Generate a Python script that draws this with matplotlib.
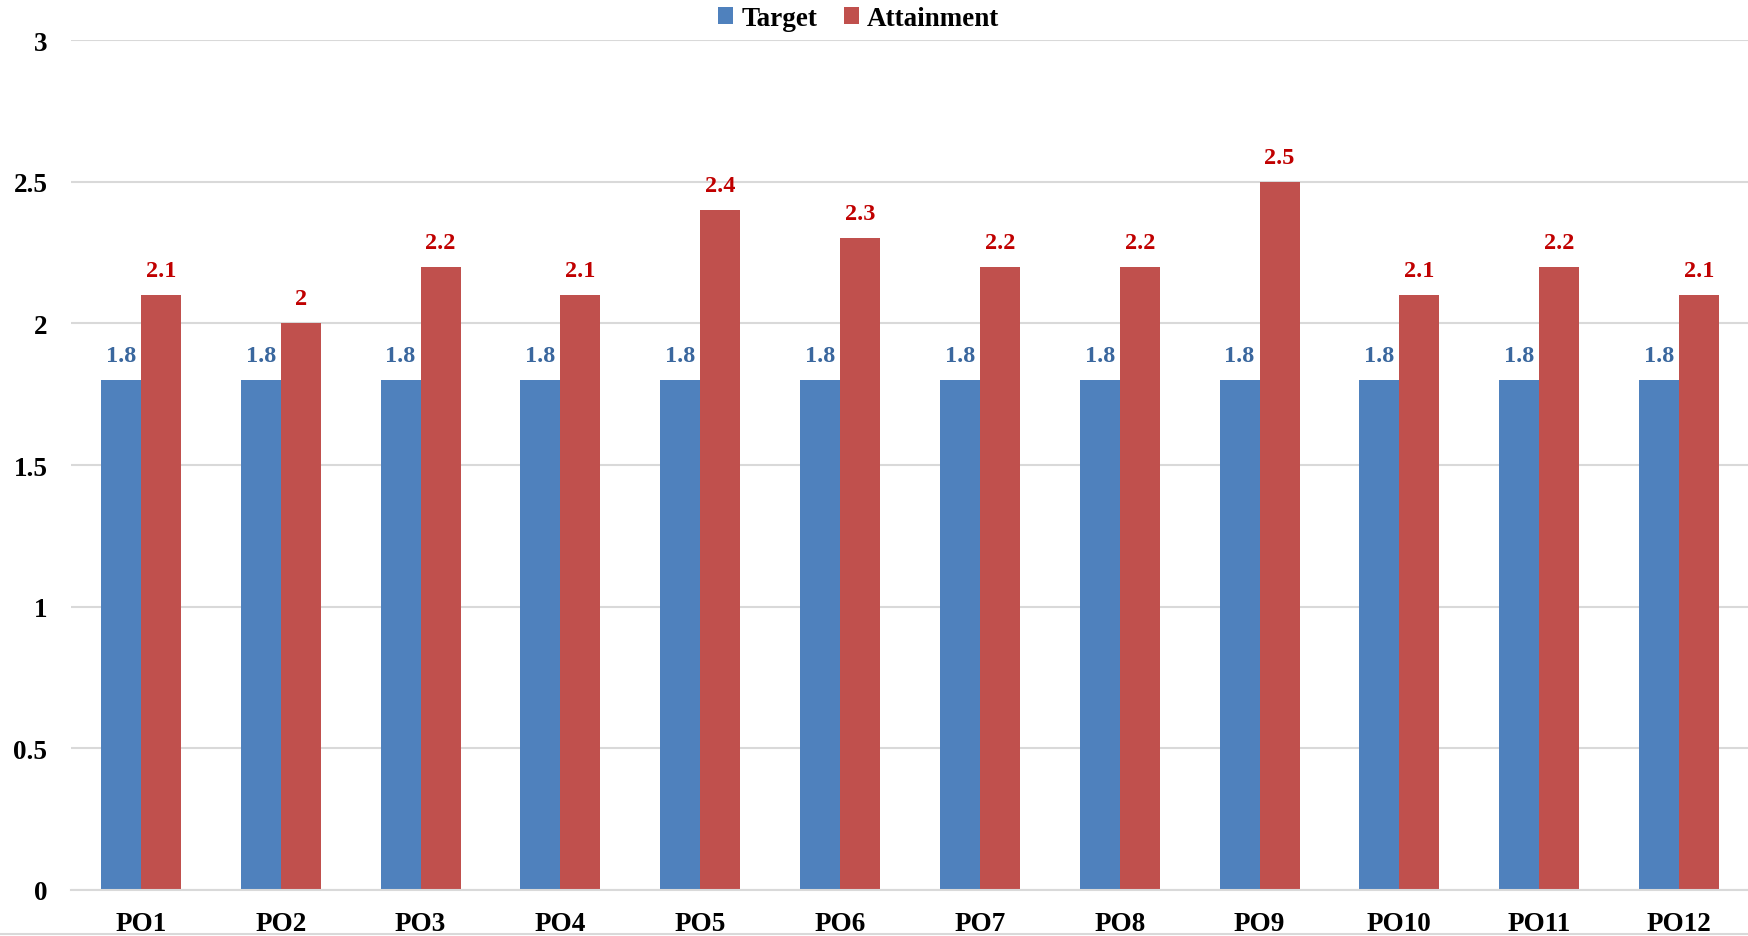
import matplotlib.pyplot as plt
import numpy as np

categories = ["PO1", "PO2", "PO3", "PO4", "PO5", "PO6",
              "PO7", "PO8", "PO9", "PO10", "PO11", "PO12"]
target = [1.8, 1.8, 1.8, 1.8, 1.8, 1.8, 1.8, 1.8, 1.8, 1.8, 1.8, 1.8]
attainment = [2.1, 2.0, 2.2, 2.1, 2.4, 2.3, 2.2, 2.2, 2.5, 2.1, 2.2, 2.1]

plt.rcParams["font.family"] = ["Liberation Serif", "DejaVu Serif"]
plt.rcParams["font.weight"] = "bold"

fig = plt.figure(figsize=(17.49, 9.37), dpi=100)
ax = fig.add_axes([0.0406, 0.0491, 0.9594, 0.9071])

x = np.arange(len(categories))
w = 0.286
b1 = ax.bar(x - w / 2, target, w, color="#4F81BD", label="Target", zorder=2)
b2 = ax.bar(x + w / 2, attainment, w, color="#C0504D", label="Attainment", zorder=2)

for rect, v in zip(b1, target):
    ax.annotate(f"{v:g}", (rect.get_x() + rect.get_width() / 2, v),
                xytext=(0, 10), textcoords="offset points", ha="center", va="bottom",
                fontsize=17.5, fontweight="bold", color="#3A679E")
for rect, v in zip(b2, attainment):
    ax.annotate(f"{v:g}", (rect.get_x() + rect.get_width() / 2, v),
                xytext=(0, 10), textcoords="offset points", ha="center", va="bottom",
                fontsize=17.5, fontweight="bold", color="#C00000")

ax.set_xlim(-0.5, len(categories) - 0.5)
ax.set_ylim(0, 3)
ax.set_yticks([0, 0.5, 1, 1.5, 2, 2.5, 3])
ax.set_yticklabels(["0", "0.5", "1", "1.5", "2", "2.5", "3"])
ax.set_xticks(x)
ax.set_xticklabels(categories)
ax.tick_params(axis="both", length=0, labelsize=19.5)
ax.tick_params(axis="y", pad=17)
ax.tick_params(axis="x", pad=15)
for lbl in ax.get_xticklabels() + ax.get_yticklabels():
    lbl.set_fontweight("bold")

ax.grid(axis="y", color="#D9D9D9", linewidth=1.5, zorder=0)
for s in ["top", "right", "left"]:
    ax.spines[s].set_visible(False)
ax.spines["bottom"].set_color("#D9D9D9")
ax.spines["bottom"].set_linewidth(1.5)

fig.legend(handles=[b1, b2], labels=["Target", "Attainment"], loc="center",
           bbox_to_anchor=(0.491, 0.979), ncol=2, frameon=False,
           prop={"size": 19.5, "weight": "bold"}, handlelength=0.55, handleheight=0.55,
           handletextpad=0.3, columnspacing=1.0, borderpad=0)

fig.add_artist(plt.Line2D([0, 1], [0.002, 0.002], color="#D9D9D9", linewidth=1.5))

fig.savefig("out.png", dpi=100)
